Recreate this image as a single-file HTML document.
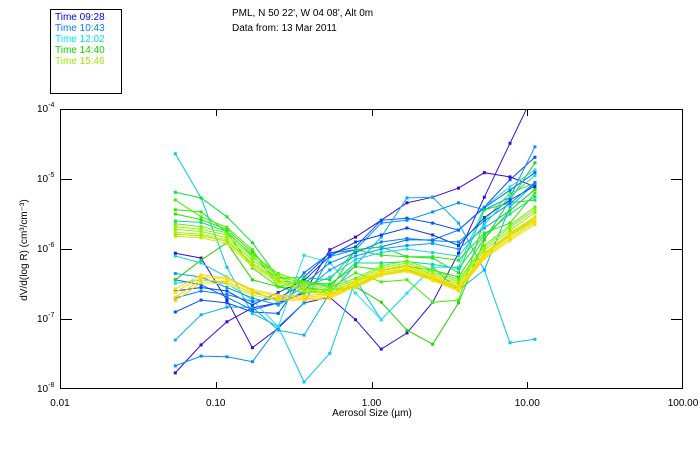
<!DOCTYPE html>
<html><head><meta charset="utf-8"><style>
body{margin:0;background:#fff;}
svg{display:block;font-family:"Liberation Sans",sans-serif;}
</style></head><body>
<svg id="chart" width="700" height="450" viewBox="0 0 700 450" xmlns="http://www.w3.org/2000/svg">
<rect x="0" y="0" width="700" height="450" fill="#fff"/>
<g>
<rect x="50.5" y="9.5" width="71" height="84" fill="none" stroke="#000" stroke-width="1"/>
<text x="55" y="20" font-size="10" fill="#0000ff">Time 09:28</text>
<text x="55" y="31" font-size="10" fill="#0080ff">Time 10:43</text>
<text x="55" y="42" font-size="10" fill="#00e8f0">Time 12:02</text>
<text x="55" y="53" font-size="10" fill="#10d000">Time 14:40</text>
<text x="55" y="64" font-size="10" fill="#a0e800">Time 15:46</text>
</g>
<text x="232" y="16" font-size="10" fill="#000">PML, N 50 22', W 04 08', Alt 0m</text>
<text x="232" y="31" font-size="10" fill="#000">Data from: 13 Mar 2011</text>
<defs><clipPath id="pc"><rect x="60" y="109" width="623" height="280"/></clipPath></defs>
<g id="series" clip-path="url(#pc)"></g>
<g id="axes"></g>
<text x="372" y="416" font-size="10" text-anchor="middle" fill="#000">Aerosol Size (µm)</text>
<text transform="translate(27,250) rotate(-90)" font-size="10" text-anchor="middle" fill="#000">dV/d(log R) (cm³/cm⁻³)</text>
</svg>
<script>
const sizes=[0.055,0.0805,0.118,0.172,0.252,0.369,0.54,0.79,1.155,1.69,2.47,3.62,5.3,7.75,11.2];
const xTicks=[0.01,0.1,1,10,100];
const xTickLabels=["0.01","0.10","1.00","10.00","100.00"];
const yTicks=[-4,-5,-6,-7,-8];
const seriesColors=["#4000e0","#3010e0","#0050ff","#00c8f0","#0090ff","#00b0ff","#20e0f0","#0070ff","#10e040","#20d800","#30e800","#40f000",
"#0040f0","#0080ff","#00a0ff","#20d0f0","#00e080","#30e000",
"#90f000","#b0f000","#80ff00","#c0f000","#a0e800","#70f000","#ffd000","#ffe000","#f0e000","#ffd800"];
const seriesValues=[
[-7.77,-7.37,-7.04,-6.84,-6.77,-6.63,-6.01,-5.83,-5.59,-5.34,-5.26,-5.13,-4.91,-4.97,-5.11],
[-6.06,-6.13,-6.73,-7.41,-7.13,-6.77,-6.69,-7.01,-7.43,-7.2,-6.76,-6.06,-5.26,-4.49,-3.75],
[-6.90,-6.73,-6.77,-6.90,-6.92,-6.40,-6.06,-5.97,-5.59,-5.56,-5.63,-5.73,-5.40,-5.01,-4.69],
[-4.64,-5.27,-6.26,-6.92,-7.11,-7.90,-7.49,-6.44,-7.01,-6.63,-6.26,-6.59,-6.30,-7.34,-7.29],
[-7.67,-7.53,-7.54,-7.61,-7.11,-6.77,-6.11,-6.01,-5.63,-5.59,-5.47,-5.34,-5.44,-5.26,-4.54],
[-7.30,-6.94,-6.83,-6.83,-7.16,-7.23,-6.63,-6.23,-5.83,-5.27,-5.26,-5.63,-6.30,-5.40,-5.06],
[-6.49,-6.44,-6.49,-6.73,-7.11,-6.09,-6.19,-6.63,-7.01,-6.63,-6.26,-6.26,-5.40,-5.11,-4.87],
[-6.44,-6.51,-6.69,-6.87,-6.77,-6.34,-6.06,-6.01,-5.97,-5.87,-5.87,-5.73,-5.41,-5.16,-4.91],
[-5.19,-5.27,-5.54,-5.91,-6.41,-6.41,-6.44,-6.01,-5.97,-6.11,-6.13,-6.34,-5.44,-5.34,-5.30],
[-6.44,-6.16,-5.91,-6.44,-6.54,-6.56,-6.59,-6.54,-6.76,-7.16,-7.36,-6.77,-5.87,-5.30,-4.77],
[-5.44,-5.47,-5.76,-6.27,-6.54,-6.63,-6.59,-6.01,-6.09,-6.11,-6.11,-6.16,-5.77,-5.63,-5.20],
[-5.30,-5.54,-5.69,-6.01,-6.54,-6.44,-6.56,-6.34,-6.47,-6.44,-6.76,-6.73,-5.59,-5.20,-5.06],
[-6.60,-6.55,-6.60,-6.80,-6.62,-6.45,-6.10,-5.90,-5.80,-5.70,-5.80,-5.95,-5.55,-5.30,-5.10],
[-6.70,-6.60,-6.65,-6.75,-6.70,-6.50,-6.20,-6.05,-5.90,-5.85,-5.88,-5.90,-5.60,-5.35,-5.05],
[-6.35,-6.40,-6.55,-6.70,-6.80,-6.60,-6.30,-6.10,-6.00,-5.95,-5.92,-6.00,-5.70,-5.45,-5.15],
[-6.10,-6.20,-6.40,-6.60,-6.75,-6.55,-6.40,-6.15,-6.05,-6.00,-6.05,-6.10,-5.65,-5.25,-4.95],
[-5.60,-5.62,-5.75,-6.10,-6.45,-6.50,-6.52,-6.20,-6.20,-6.18,-6.22,-6.28,-5.80,-5.50,-5.25],
[-5.50,-5.58,-5.72,-6.05,-6.40,-6.48,-6.50,-6.25,-6.30,-6.25,-6.30,-6.40,-5.85,-5.45,-5.15],
[-5.72,-5.75,-5.84,-6.16,-6.41,-6.53,-6.60,-6.48,-6.30,-6.23,-6.36,-6.50,-6.02,-5.73,-5.48],
[-5.76,-5.79,-5.87,-6.20,-6.44,-6.56,-6.63,-6.51,-6.34,-6.27,-6.40,-6.54,-6.06,-5.77,-5.54],
[-5.68,-5.72,-5.80,-6.12,-6.38,-6.50,-6.58,-6.45,-6.27,-6.20,-6.33,-6.47,-5.98,-5.69,-5.44],
[-5.82,-5.84,-5.92,-6.25,-6.48,-6.60,-6.66,-6.55,-6.38,-6.31,-6.44,-6.58,-6.10,-5.82,-5.60],
[-5.79,-5.81,-5.89,-6.22,-6.46,-6.58,-6.64,-6.53,-6.36,-6.29,-6.42,-6.56,-6.08,-5.80,-5.57],
[-5.64,-5.68,-5.77,-6.08,-6.35,-6.47,-6.55,-6.42,-6.24,-6.17,-6.30,-6.44,-5.95,-5.66,-5.40],
[-6.69,-6.44,-6.47,-6.63,-6.71,-6.71,-6.69,-6.51,-6.36,-6.30,-6.43,-6.58,-6.12,-5.85,-5.62],
[-6.62,-6.40,-6.43,-6.60,-6.68,-6.69,-6.66,-6.48,-6.33,-6.27,-6.40,-6.55,-6.09,-5.82,-5.58],
[-6.74,-6.48,-6.50,-6.66,-6.73,-6.73,-6.71,-6.53,-6.38,-6.32,-6.45,-6.60,-6.14,-5.88,-5.65],
[-6.57,-6.37,-6.41,-6.58,-6.66,-6.67,-6.64,-6.46,-6.31,-6.25,-6.38,-6.53,-6.07,-5.79,-5.55]
];
const L=60,R=683,T=109,B=389;
function xs(v){return L+(Math.log10(v)+2)/4*(R-L);}
function ys(e){return T+(-4-e)/4*(B-T);}
const NS="http://www.w3.org/2000/svg";
const sg=document.getElementById('series');
seriesValues.forEach((vals,i)=>{
  const g=document.createElementNS(NS,'g');
  
  
  const pts=vals.map((v,j)=>xs(sizes[j]).toFixed(1)+','+ys(v).toFixed(1)).join(' ');
  const pl=document.createElementNS(NS,'polyline');
  pl.setAttribute('points',pts);pl.setAttribute('fill','none');
  pl.setAttribute('stroke',seriesColors[i]);pl.setAttribute('stroke-width','1');
  
  
  g.appendChild(pl);
  vals.forEach((v,j)=>{
    const r=document.createElementNS(NS,'rect');
    r.setAttribute('x',xs(sizes[j])-1.5);r.setAttribute('y',ys(v)-1.5);
    r.setAttribute('width',3);r.setAttribute('height',3);r.setAttribute('fill',seriesColors[i]);
    
    
    g.appendChild(r);
  });
  sg.appendChild(g);
});
const ax=document.getElementById('axes');
function el(tag,attrs){const e=document.createElementNS(NS,tag);for(const k in attrs)e.setAttribute(k,attrs[k]);ax.appendChild(e);return e;}
const frame=el('rect',{x:L+0.5,y:T+0.5,width:R-L-1,height:B-T-1,fill:'none',stroke:'#000','stroke-width':1});


xTicks.forEach((t,i)=>{
  const x=Math.round(xs(t))+0.5;
  if(i>0&&i<xTicks.length-1){
    el('line',{x1:x,y1:B,x2:x,y2:B-7,stroke:'#000'});
    el('line',{x1:x,y1:T,x2:x,y2:T+7,stroke:'#000'});
  }
  const tx=el('text',{x:xs(t),y:B+17,'font-size':10,'text-anchor':'middle',fill:'#000'});
  tx.textContent=xTickLabels[i];
  
  
});
yTicks.forEach((e,i)=>{
  const y=Math.round(ys(e))+0.5;
  if(i>0&&i<yTicks.length-1){
    el('line',{x1:L,y1:y,x2:L+12,y2:y,stroke:'#000'});
    el('line',{x1:R,y1:y,x2:R-12,y2:y,stroke:'#000'});
  }
  const tx=el('text',{x:37,y:ys(e)+3,'font-size':10,fill:'#000'});
  tx.innerHTML='10<tspan dy="-5" font-size="7">'+e+'</tspan>';
  
  
});
</script>
</body></html>
